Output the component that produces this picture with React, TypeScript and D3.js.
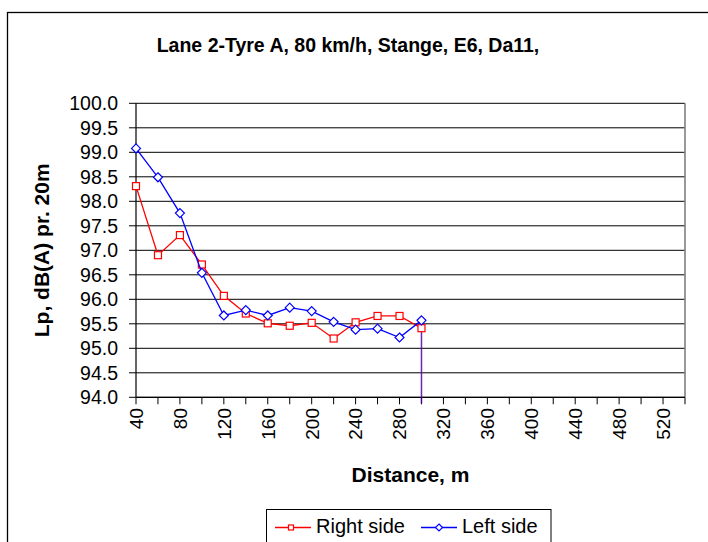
import { useMemo } from 'react'
import * as d3 from 'd3'

const distances = [
  40, 60, 80, 100, 120, 140, 160, 180, 200, 220, 240, 260, 280, 300, 320, 340, 360, 380, 400, 420, 440, 460, 480, 500,
  520, 540,
]
const measured = [40, 60, 80, 100, 120, 140, 160, 180, 200, 220, 240, 260, 280, 300]
const rightSide = [98.31, 96.9, 97.31, 96.71, 96.07, 95.71, 95.51, 95.46, 95.52, 95.2, 95.53, 95.66, 95.66, 95.41]
const leftSide = [99.08, 98.49, 97.76, 96.54, 95.67, 95.78, 95.67, 95.83, 95.76, 95.54, 95.38, 95.4, 95.22, 95.57]
const yTicks = [94.0, 94.5, 95.0, 95.5, 96.0, 96.5, 97.0, 97.5, 98.0, 98.5, 99.0, 99.5, 100.0]

const title = 'Lane 2-Tyre A, 80 km/h, Stange, E6, Da11,'
const xTitle = 'Distance, m'
const yTitle = 'Lp, dB(A) pr. 20m'

const RED = '#ff0000'
const BLUE = '#0000ff'

export default function App() {
  const width = 708
  const height = 542
  const plot = { left: 136, right: 685, top: 103.3, bottom: 397.3 }

  const x = useMemo(
    () =>
      d3
        .scalePoint<number>()
        .domain(distances)
        .range([plot.left, plot.right])
        .padding(0),
    []
  )
  const y = useMemo(
    () =>
      d3
        .scaleLinear()
        .domain([94, 100])
        .range([plot.bottom, plot.top]),
    []
  )

  const line = d3
    .line<number>()
    .x((_, i) => x(measured[i]) ?? 0)
    .y((d) => y(d))

  const xLabels = distances.filter((_, i) => i % 2 === 0 && i < distances.length - 1)
  const lastX = x(measured[measured.length - 1]) ?? 0

  const square = (cx: number, cy: number, s: number) => (
    <rect x={cx - s / 2} y={cy - s / 2} width={s} height={s} fill="#fff" stroke={RED} strokeWidth={1.2} />
  )
  const diamond = (cx: number, cy: number, r: number) => (
    <path
      d={`M${cx},${cy - r}L${cx + r},${cy}L${cx},${cy + r}L${cx - r},${cy}Z`}
      fill="#fff"
      stroke={BLUE}
      strokeWidth={1.2}
    />
  )

  return (
    <svg
      width={width}
      height={height}
      style={{ position: 'absolute', left: 0, top: 0, background: '#fff' }}
      fontFamily="'Liberation Sans', Arial, sans-serif"
    >
      <rect x={7.5} y={12.5} width={760} height={600} fill="#fff" stroke="#000" strokeWidth={1.3} />

      <text x={348} y={52} textAnchor="middle" fontWeight="bold" fontSize={19.5}>
        {title}
      </text>

      {yTicks.map((t) => (
        <g key={`y-${t}`}>
          <line x1={plot.left - 7} x2={plot.right} y1={y(t)} y2={y(t)} stroke="#000" strokeWidth={1} />
          <text x={118} y={y(t)} dy="0.36em" textAnchor="end" fontSize={19.5}>
            {t.toFixed(1)}
          </text>
        </g>
      ))}

      <line x1={plot.right} x2={plot.right} y1={plot.top} y2={plot.bottom} stroke="#808080" strokeWidth={1.6} />
      <line x1={plot.left} x2={plot.left} y1={plot.top} y2={plot.bottom} stroke="#000" strokeWidth={1.2} />
      <line x1={plot.left} x2={plot.right} y1={plot.bottom} y2={plot.bottom} stroke="#000" strokeWidth={1.2} />

      {distances.map((d) => (
        <line key={`xt-${d}`} x1={x(d)} x2={x(d)} y1={plot.bottom} y2={plot.bottom + 7} stroke="#000" strokeWidth={1} />
      ))}
      {xLabels.map((d) => (
        <text
          key={`xl-${d}`}
          transform={`translate(${x(d)}, 408) rotate(-90)`}
          dy="0.36em"
          textAnchor="end"
          fontSize={19}
        >
          {d}
        </text>
      ))}

      <text x={(plot.left + plot.right) / 2} y={482} textAnchor="middle" fontWeight="bold" fontSize={21}>
        {xTitle}
      </text>
      <text
        transform={`translate(48.5, ${(plot.top + plot.bottom) / 2}) rotate(-90)`}
        textAnchor="middle"
        fontWeight="bold"
        fontSize={21}
      >
        {yTitle}
      </text>

      <line
        x1={lastX}
        x2={lastX}
        y1={y(rightSide[rightSide.length - 1])}
        y2={plot.bottom + 6}
        stroke={RED}
        strokeOpacity={0.6}
        strokeWidth={1.4}
      />
      <line
        x1={lastX}
        x2={lastX}
        y1={y(leftSide[leftSide.length - 1])}
        y2={plot.bottom + 6}
        stroke={BLUE}
        strokeOpacity={0.6}
        strokeWidth={1.4}
      />

      <path d={line(rightSide) ?? ''} fill="none" stroke={RED} strokeWidth={1.3} />
      {rightSide.map((v, i) => (
        <g key={`r-${i}`}>{square(x(measured[i]) ?? 0, y(v), 7)}</g>
      ))}
      <path d={line(leftSide) ?? ''} fill="none" stroke={BLUE} strokeWidth={1.3} />
      {leftSide.map((v, i) => (
        <g key={`l-${i}`}>{diamond(x(measured[i]) ?? 0, y(v), 4.5)}</g>
      ))}

      <g>
        <rect x={266.5} y={509.5} width={284.5} height={60} fill="#fff" stroke="#000" strokeWidth={1} />
        <line x1={275} x2={311} y1={527.5} y2={527.5} stroke={RED} strokeWidth={1.3} />
        {square(291, 527.5, 5)}
        <text x={316} y={533} fontSize={20}>
          Right side
        </text>
        <line x1={421} x2={457} y1={527.5} y2={527.5} stroke={BLUE} strokeWidth={1.3} />
        {diamond(439, 527.5, 3.5)}
        <text x={462} y={533} fontSize={20}>
          Left side
        </text>
      </g>
    </svg>
  )
}
